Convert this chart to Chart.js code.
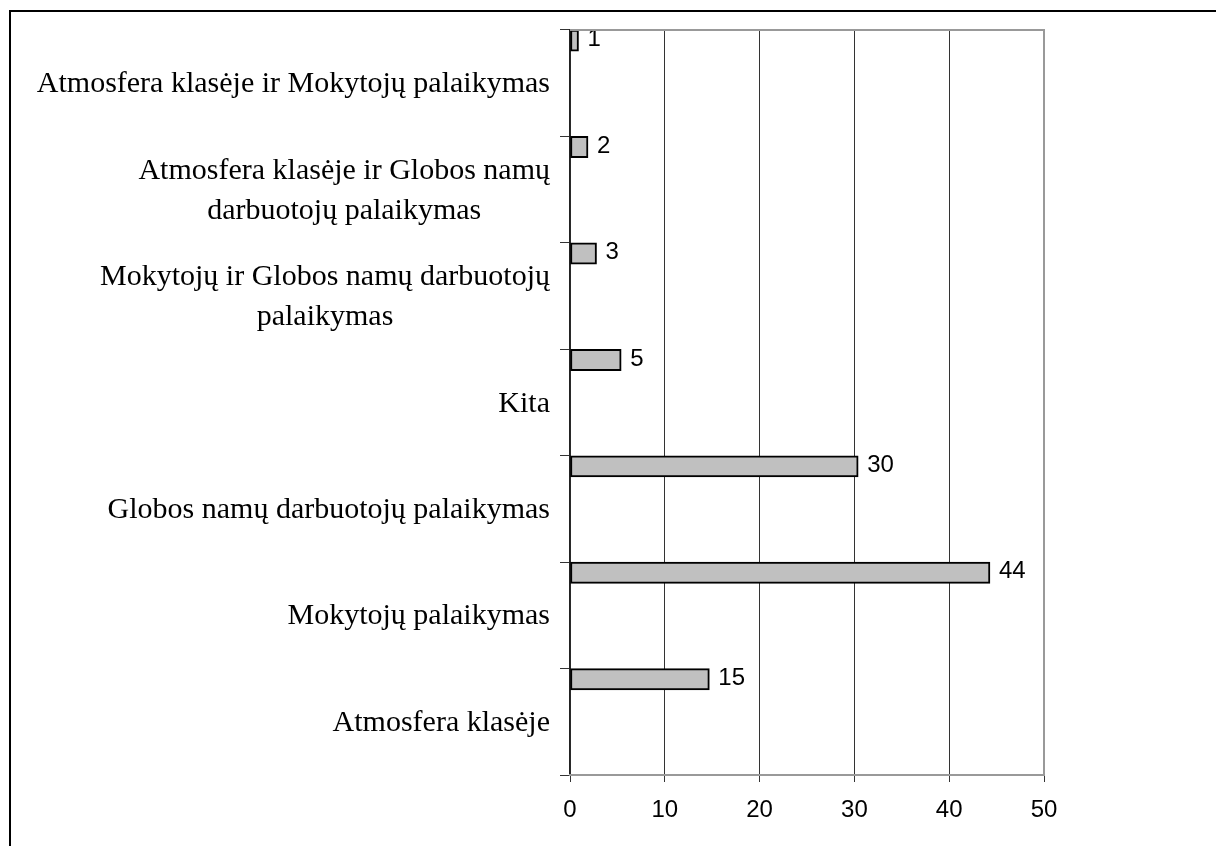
<!DOCTYPE html>
<html>
<head>
<meta charset="utf-8">
<script src="https://cdn.jsdelivr.net/npm/chart.js@4/dist/chart.umd.min.js"></script>
<style>
  body { margin: 0; background: #fff; overflow: hidden; }
  #wrap { position: relative; width: 1216px; height: 846px; }
  #frame { position: absolute; left: 9px; top: 10px; width: 1300px; height: 900px;
    border-left: 2px solid #000; border-top: 2px solid #000; pointer-events: none; }
  canvas { position: absolute; left: 0; top: 0; }
</style>
</head>
<body>
<div id="wrap">
  <canvas id="myChart" width="1216" height="846"></canvas>
  <div id="frame"></div>
</div>
<script>
// categories top to bottom
let categories = [
  'Atmosfera klasėje ir Mokytojų palaikymas',
  ['Atmosfera klasėje ir Globos namų', 'darbuotojų palaikymas'],
  ['Mokytojų ir Globos namų darbuotojų', 'palaikymas'],
  'Kita',
  'Globos namų darbuotojų palaikymas',
  'Mokytojų palaikymas',
  'Atmosfera klasėje'
];
let values = [0.9, 1.9, 2.8, 5.4, 30.4, 44.3, 14.7];
let valueLabels = ['1', '2', '3', '5', '30', '44', '15'];
let xTicks = [0, 10, 20, 30, 40, 50];

// category labels drawn by hand so the two-line ones are centred like the original
let catLabels = {
  id: 'catLabels',
  afterDraw(chart) {
    let ctx = chart.ctx;
    let yScale = chart.scales.y;
    let right = chart.chartArea.left - 20;
    ctx.save();
    ctx.font = '30px "Liberation Serif"';
    ctx.fillStyle = '#000';
    ctx.textAlign = 'center';
    ctx.textBaseline = 'alphabetic';
    for (let i = 0; i < categories.length; i++) {
      let lines = Array.isArray(categories[i]) ? categories[i] : [categories[i]];
      let w = 0;
      lines.forEach(l => { w = Math.max(w, ctx.measureText(l).width); });
      let cx = right - w / 2;
      let cy = yScale.getPixelForValue(i);
      for (let j = 0; j < lines.length; j++) {
        ctx.fillText(lines[j], cx, cy + 9 + (j - (lines.length - 1) / 2) * 40);
      }
    }
    ctx.restore();
  }
};

let valueText = {
  id: 'valueText',
  afterDatasetsDraw(chart) {
    let ctx = chart.ctx;
    let meta = chart.getDatasetMeta(0);
    ctx.save();
    ctx.font = '24px "Liberation Sans"';
    ctx.fillStyle = '#000';
    ctx.textAlign = 'left';
    ctx.textBaseline = 'middle';
    meta.data.forEach((bar, i) => {
      ctx.fillText(valueLabels[i], bar.x + 9, bar.y - 1);
    });
    ctx.restore();
  }
};

let plotEdges = {
  id: 'plotEdges',
  afterDraw(chart) {
    let a = chart.chartArea;
    let ctx = chart.ctx;
    ctx.save();
    ctx.strokeStyle = '#999';
    ctx.lineWidth = 2;
    ctx.beginPath();
    ctx.moveTo(a.left, a.top);
    ctx.lineTo(a.right, a.top);
    ctx.lineTo(a.right, a.bottom);
    ctx.stroke();
    ctx.restore();
  }
};

let datasets = [{
  data: values,
  backgroundColor: '#c0c0c0',
  borderColor: '#000',
  borderWidth: 2,
  borderSkipped: false
}];
// empty slots so the real bar sits at the top of each band
for (let k = 0; k < 4; k++) {
  datasets.push({ data: [] });
}

let ctx = document.getElementById('myChart').getContext('2d');
let myChart = new Chart(ctx, {
  type: 'bar',
  data: { labels: categories, datasets: datasets },
  options: {
    indexAxis: 'y',
    responsive: false,
    animation: false,
    events: [],
    layout: { padding: { left: 10, top: 30, right: 172, bottom: 0 } },
    datasets: { bar: { categoryPercentage: 1, barPercentage: 1 } },
    plugins: { legend: { display: false }, tooltip: { enabled: false } },
    scales: {
      y: {
        ticks: { display: false },
        grid: { offset: true, drawOnChartArea: false, tickLength: 10, tickColor: '#333', lineWidth: 1 },
        border: { color: '#222', width: 1.5 },
        afterFit(scale) { scale.width = 560; }
      },
      x: {
        min: xTicks[0],
        max: xTicks[xTicks.length - 1],
        afterBuildTicks(scale) { scale.ticks = xTicks.map(v => ({ value: v })); },
        ticks: {
          font: { family: 'Liberation Sans', size: 24 },
          color: '#000',
          padding: 14
        },
        grid: { color: '#333', lineWidth: 1, tickLength: 7, tickColor: '#333' },
        border: { color: '#999', width: 2 },
        afterFit(scale) { scale.height = 71; }
      }
    }
  },
  plugins: [catLabels, valueText, plotEdges]
});
</script>
</body>
</html>
